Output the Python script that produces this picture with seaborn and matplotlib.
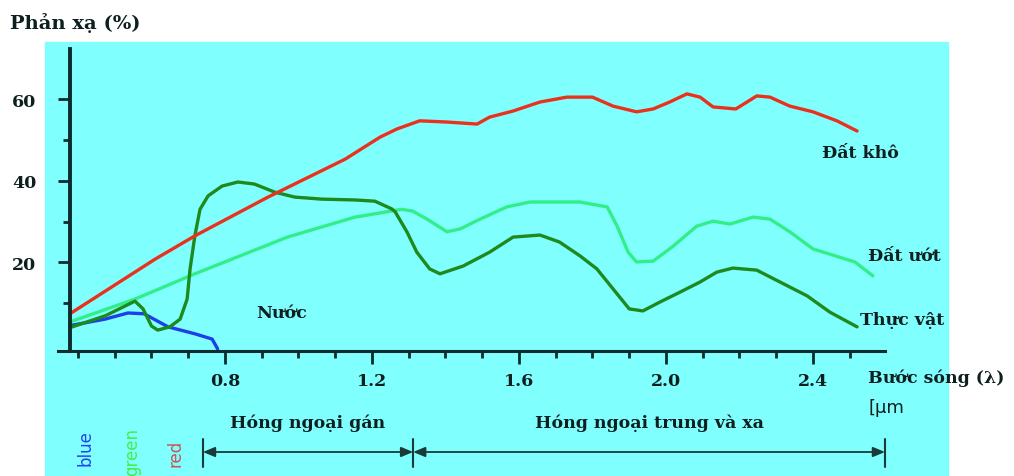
import numpy as np
import pandas as pd
import matplotlib
matplotlib.use("Agg")
import matplotlib.pyplot as plt
from matplotlib.patches import Rectangle
import seaborn as sns

sns.set_theme(style="white")
plt.rcParams['font.family'] = ['DejaVu Serif', 'Liberation Serif']

# ---- data (wavelength in µm, reflectance in %) ----
dry_x = [0.378, 0.61, 0.718, 0.917, 1.127, 1.222, 1.268, 1.33, 1.404, 1.486, 1.52, 1.584,
         1.657, 1.73, 1.80, 1.856, 1.92, 1.965, 2.01, 2.057, 2.093, 2.128, 2.19, 2.247,
         2.283, 2.337, 2.40, 2.465, 2.52]
dry_y = [7.4, 20.8, 26.5, 36.0, 45.3, 50.7, 52.7, 54.7, 54.4, 53.9, 55.6, 57.1,
         59.3, 60.5, 60.5, 58.3, 56.9, 57.6, 59.3, 61.3, 60.5, 58.1, 57.6, 60.8,
         60.5, 58.3, 56.9, 54.7, 52.2]

wet_x = [0.378, 0.555, 0.718, 0.97, 1.154, 1.28, 1.31, 1.35, 1.404, 1.44, 1.494, 1.567,
         1.63, 1.766, 1.84, 1.867, 1.897, 1.92, 1.965, 2.02, 2.084, 2.128, 2.174, 2.237,
         2.283, 2.337, 2.40, 2.514, 2.563]
wet_y = [5.4, 11.0, 17.2, 26.2, 31.1, 33.0, 32.6, 30.6, 27.5, 28.2, 30.6, 33.6,
         34.8, 34.8, 33.6, 28.9, 22.5, 20.1, 20.3, 24.0, 28.9, 30.1, 29.4, 31.1,
         30.6, 27.5, 23.3, 20.1, 16.7]

veg_x = [0.378, 0.474, 0.555, 0.577, 0.60, 0.617, 0.65, 0.678, 0.697, 0.705, 0.718, 0.732,
         0.754, 0.792, 0.835, 0.88, 0.936, 0.99, 1.064, 1.154, 1.208, 1.254, 1.263, 1.295,
         1.322, 1.357, 1.385, 1.448, 1.52, 1.584, 1.657, 1.71, 1.766, 1.812, 1.856, 1.90,
         1.937, 1.984, 2.038, 2.093, 2.138, 2.182, 2.247, 2.31, 2.384, 2.446, 2.52]
veg_y = [4.0, 6.9, 10.5, 8.6, 4.4, 3.4, 4.2, 6.1, 11.0, 18.4, 26.5, 33.0,
         36.3, 38.7, 39.7, 39.2, 37.2, 36.0, 35.5, 35.3, 35.0, 33.1, 32.4, 27.5,
         22.5, 18.4, 17.2, 19.1, 22.5, 26.2, 26.7, 25.0, 21.6, 18.4, 13.5, 8.6,
         8.1, 10.3, 12.7, 15.2, 17.6, 18.6, 18.1, 15.2, 11.8, 7.8, 4.2]

water_x = [0.378, 0.474, 0.536, 0.58, 0.645, 0.718, 0.765, 0.78]
water_y = [4.5, 6.1, 7.6, 7.4, 4.2, 2.5, 1.2, -1.2]

series_names = ["Đất khô", "Đất ướt", "Thực vật", "Nước"]
x_ticks = [0.8, 1.2, 1.6, 2.0, 2.4]
x_tick_labels = ["0.8", "1.2", "1.6", "2.0", "2.4"]
y_ticks = [20, 40, 60]
y_tick_labels = ["20", "40", "60"]
band_labels = ["blue", "green", "red"]
region_labels = ["Hóng ngoại gán", "Hóng ngoại trung và xa"]
region_bounds = [0.74, 1.312, 2.596]

colors = {"Đất khô": "#e8321e", "Đất ướt": "#33ee88", "Thực vật": "#1e8a1e", "Nước": "#1f3fe6"}
band_colors = ["#2244ee", "#44ee44", "#cc5555"]
txt_col = "#0d1f1f"
axis_col = "#0f2b2b"
FS = 12.5

W, H = 1014, 477
fig = plt.figure(figsize=(W / 100, H / 100), dpi=100)
fig.patch.set_facecolor("white")
fig.patches.append(Rectangle((45 / W, 0), (948 - 45) / W, (H - 43) / H,
                             transform=fig.transFigure, color="#80ffff", zorder=-10))

ax = fig.add_axes([58 / W, 1 - 352 / H, (885 - 58) / W, (352 - 50) / H])
ax.set_facecolor("none")
ax.set_zorder(5)

frames = []
for name, xs, ys in [("Đất khô", dry_x, dry_y), ("Đất ướt", wet_x, wet_y),
                     ("Thực vật", veg_x, veg_y), ("Nước", water_x, water_y)]:
    frames.append(pd.DataFrame({"x": xs, "y": ys, "s": name}))
df = pd.concat(frames, ignore_index=True)
for name in ["Nước", "Đất ướt", "Thực vật", "Đất khô"]:
    sub = df[df.s == name]
    sns.lineplot(data=sub, x="x", y="y", ax=ax, color=colors[name], lw=2.4,
                 sort=False, estimator=None, legend=False)
for ln in ax.get_lines():
    ln.set_solid_joinstyle("round")
    ln.set_solid_capstyle("round")

ax.set_xlim(0.3456, 2.596)
ax.set_ylim(-1.72, 72.3)
ax.set_xlabel("")
ax.set_ylabel("")
for s in ["top", "right"]:
    ax.spines[s].set_visible(False)
ax.spines["left"].set_position(("data", 0.378))
ax.spines["left"].set_color(axis_col)
ax.spines["left"].set_linewidth(2.8)
ax.spines["bottom"].set_color(axis_col)
ax.spines["bottom"].set_linewidth(2.2)

ax.set_xticks(x_ticks)
ax.set_xticklabels(x_tick_labels, fontsize=FS, fontweight="bold", color=txt_col)
ax.set_xticks(np.round(np.arange(0.4, 2.55, 0.1), 2), minor=True)
ax.set_yticks(y_ticks)
ax.set_yticklabels(y_tick_labels, fontsize=FS, fontweight="bold", color=txt_col)
ax.set_yticks([10, 30, 50], minor=True)
ax.tick_params(axis="both", which="both", bottom=True, left=True, top=False, right=False)
ax.tick_params(axis="x", which="major", direction="out", length=9, width=2, color=axis_col, pad=6)
ax.tick_params(axis="x", which="minor", direction="out", length=5, width=2, color=axis_col)
ax.tick_params(axis="y", which="major", direction="out", length=9, width=2, color=axis_col, pad=15)
ax.tick_params(axis="y", which="minor", direction="out", length=5, width=2, color=axis_col)
ax.grid(False)

# curve labels
ax.text(2.425, 47.0, "Đất khô", fontsize=FS, fontweight="bold", color=txt_col, va="center")
ax.text(2.55, 21.6, "Đất ướt", fontsize=FS, fontweight="bold", color=txt_col, va="center")
ax.text(2.528, 6.1, "Thực vật", fontsize=FS, fontweight="bold", color=txt_col, va="center")
ax.text(0.955, 7.8, "Nước", fontsize=FS, fontweight="bold", color=txt_col, va="center", ha="center")

# title and axis label
fig.text(10 / W, 1 - 23 / H, "Phản xạ (%)", fontsize=14, fontweight="bold", color=txt_col, va="center")
fig.text(868 / W, 1 - 378 / H, "Bước sóng (λ)", fontsize=FS, fontweight="bold", color=txt_col, va="center")
fig.text(868 / W, 1 - 408 / H, "[µm", fontsize=13, color=txt_col, va="center",
         family=["DejaVu Sans"])

# band labels
for lbl, px, py, c in zip(band_labels, [85, 132, 175], [448, 452, 453], band_colors):
    fig.text(px / W, 1 - py / H, lbl, rotation=90, fontsize=12, color=c, ha="center", va="center",
             family=["DejaVu Sans"])

# region arrows
tr = ax.get_xaxis_transform()
ya = (352 - 453) / 302
yt = (352 - 423) / 302
for x0, x1, lbl in zip(region_bounds[:-1], region_bounds[1:], region_labels):
    ax.annotate("", xy=(x0, ya), xytext=(x1, ya), xycoords=tr, textcoords=tr,
                arrowprops=dict(arrowstyle="<|-|>,head_length=0.6,head_width=0.25",
                                color="#1a3a3a", lw=1.3, shrinkA=0, shrinkB=0),
                annotation_clip=False)
    ax.text((x0 + x1) / 2, yt, lbl, transform=tr, fontsize=FS, fontweight="bold",
            color=txt_col, ha="center", va="center", clip_on=False)
for xb in region_bounds:
    ax.plot([xb, xb], [(352 - 440) / 302, (352 - 468) / 302], transform=tr,
            color="#1a3a3a", lw=1.5, clip_on=False)

fig.savefig("out.png", dpi=100, facecolor=fig.get_facecolor())
